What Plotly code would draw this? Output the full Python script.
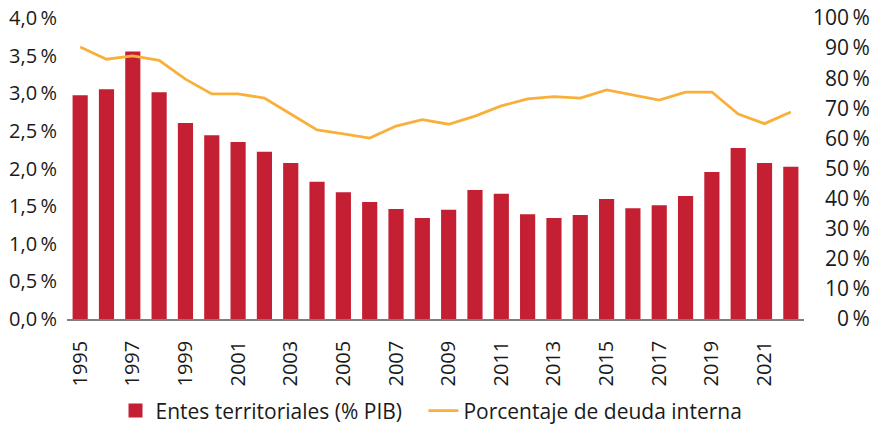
import plotly.graph_objects as go

years = list(range(1995, 2023))
entes_pib = [2.96, 3.04, 3.54, 3.00, 2.59, 2.43, 2.34, 2.21, 2.06, 1.81, 1.67, 1.54, 1.45, 1.33,
             1.44, 1.70, 1.65, 1.38, 1.33, 1.37, 1.58, 1.46, 1.50, 1.62, 1.94, 2.26, 2.06, 2.01]
deuda_interna = [90.4, 86.3, 87.4, 85.9, 79.7, 74.8, 74.8, 73.4, 68.1, 62.8, 61.5, 60.1, 64.1, 66.2,
                 64.7, 67.4, 70.8, 73.1, 73.9, 73.4, 76.1, 74.4, 72.7, 75.4, 75.4, 68.1, 64.9, 68.8]
left_ticks = [0, 0.5, 1.0, 1.5, 2.0, 2.5, 3.0, 3.5, 4.0]
right_ticks = [0, 10, 20, 30, 40, 50, 60, 70, 80, 90, 100]

FONT = "'Open Sans', 'Noto Sans', sans-serif"
BAR_COLOR = "#C41F33"
LINE_COLOR = "#F9B03A"

fig = go.Figure()
fig.add_trace(go.Bar(x=years, y=entes_pib, name="Entes territoriales (% PIB)\u00a0\u00a0\u00a0",
                     marker=dict(color=BAR_COLOR, line=dict(width=2, color=BAR_COLOR)),
                     width=0.5))
fig.add_trace(go.Scatter(x=years, y=deuda_interna, name="Porcentaje de deuda interna",
                         mode="lines", line=dict(color=LINE_COLOR, width=2.8), yaxis="y2"))

fsp = "\u2007"
thin = "\u2009"
right_text = [(fsp * (3 - len(str(v)))) + f"{v}{thin}%" for v in right_ticks]
left_text = [f"{v:.1f}".replace(".", ",") + thin + "%" for v in left_ticks]

fig.update_layout(
    width=874, height=428,
    margin=dict(l=67, r=70, t=18, b=109, autoexpand=False),
    paper_bgcolor="white", plot_bgcolor="white",
    font=dict(family=FONT, size=20, color="#1a1a1a"),
    showlegend=True,
    legend=dict(orientation="h", x=0.4946, xanchor="center", xref="paper",
                y=0.04, yanchor="middle", yref="container",
                font=dict(size=21), bgcolor="rgba(0,0,0,0)"),
    xaxis=dict(range=[1994.5, 2022.5], tickmode="array", tickvals=years[::2],
               ticktext=[str(y) for y in years[::2]], tickangle=-90,
               showgrid=False, zeroline=False, showline=True, linecolor="#7f7f7f",
               linewidth=1.5, ticks="", ticklabelstandoff=12, automargin=False),
    yaxis=dict(range=[0, 4], tickmode="array", tickvals=left_ticks, ticktext=left_text,
               showgrid=False, zeroline=False, showline=False, ticks="",
               ticklabelstandoff=9, automargin=False),
    yaxis2=dict(range=[0, 100], overlaying="y", side="right", tickmode="array",
                tickvals=right_ticks, ticktext=right_text, tickfont=dict(size=21),
                showgrid=False, zeroline=False, showline=False, ticks="",
                ticklabelstandoff=8, automargin=False),
)

fig.write_html("out.html", config={"displayModeBar": False},
               post_script="document.body.style.margin='0';")
